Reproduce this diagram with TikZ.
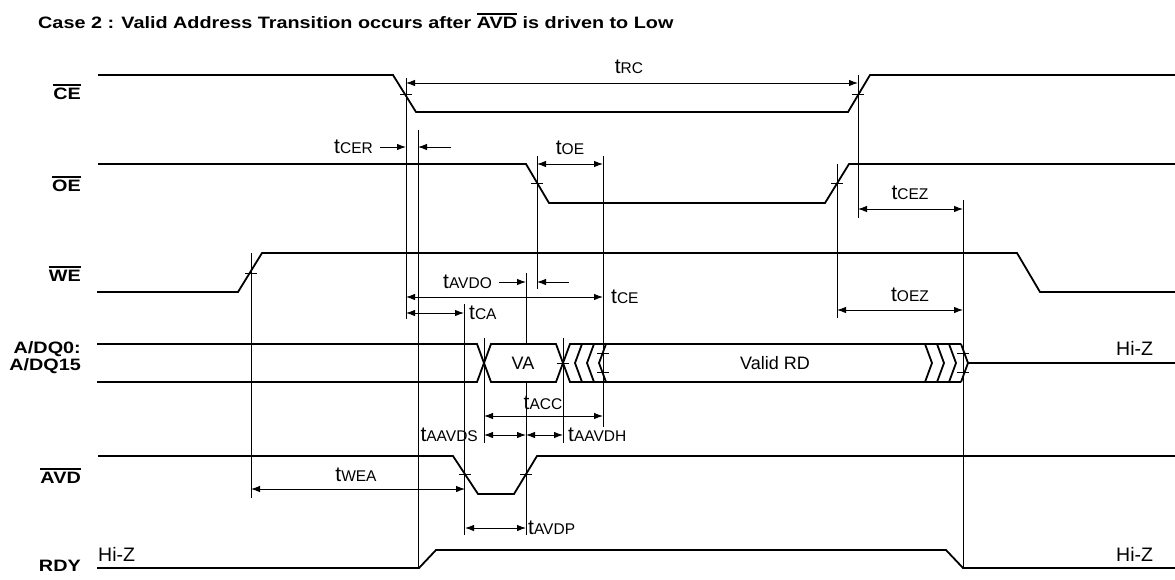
\documentclass[tikz,border=0pt]{standalone}
\usepackage{fontspec}
\setmainfont{Liberation Sans}
\newfontfamily\widesans{Liberation Sans}[FakeStretch=1.2]
\usetikzlibrary{arrows.meta}
\newcommand{\ovl}[1]{\begingroup\setbox0\hbox{#1}\rlap{\rule[\dimexpr\ht0+2.5pt\relax]{\wd0}{2pt}}\box0\endgroup}
\newcommand{\tp}[1]{{\fontsize{21}{21}\selectfont t}{\fontsize{15.5}{15.5}\selectfont #1}}

\begin{document}
\begin{tikzpicture}[x=1pt,y=-1pt,
  sig/.style={line width=1.8pt,line join=miter},
  guide/.style={line width=0.9pt},
  dim/.style={line width=0.9pt,{Latex[length=9pt,width=6.5pt]}-{Latex[length=9pt,width=6.5pt]}},
  onedim/.style={line width=0.9pt,-{Latex[length=9pt,width=6.5pt]}},
  lbl/.style={font=\widesans\bfseries\fontsize{16.5}{17}\selectfont,anchor=east,align=right,inner sep=0pt},
  txt/.style={font=\fontsize{18}{18}\selectfont,inner sep=1pt}]
\useasboundingbox (0,0) rectangle (1175,579);
\node[font=\widesans\bfseries\fontsize{16.5}{17}\selectfont,anchor=west,inner sep=0pt] (title) at (38,21)
  {Case 2 : Valid Address Transition occurs after \ovl{AVD} is driven to Low};
% signal names
\node[lbl] (nCE) at (81,92) {\ovl{CE}};
\node[lbl] (nOE) at (81,184) {\ovl{OE}};
\node[lbl] (nWE) at (81,274) {\ovl{WE}};
\node[lbl] (nDQ) at (81,358) {A/DQ0:\\A/DQ15};
\node[lbl] (nAVD) at (81,476) {\ovl{AVD}};
\node[lbl] (nRDY) at (81,566) {RDY};
% waveforms
\draw[sig] (98,75)--(393,75)--(416,112)--(848,112)--(870,75)--(1175,75);
\draw[sig] (98,164)--(526,164)--(549,203)--(825,203)--(849,164)--(1175,164);
\draw[sig] (97,292)--(238,292)--(262,253)--(1017,253)--(1040,292)--(1175,292);
\draw[sig] (98,456)--(453,456)--(478,494)--(514,494)--(537,456)--(1175,456);
\draw[sig] (97,568)--(419,568)--(436,550)--(946,550)--(963,568)--(1175,568);
% address/data bus
\draw[sig] (97,344)--(477,344)--(491,382)--(556,382)--(570,344)--(961,344);
\draw[sig] (97,382)--(477,382)--(491,344)--(556,344)--(570,382)--(961,382);
\foreach \p in {575,587,599}
  \draw[sig] (\p+7,344)--(\p,363)--(\p+7,382);
\foreach \p in {925,937,949,961}
  \draw[sig] (\p,344)--(\p+7,363)--(\p,382);
\draw[sig] (968,363)--(1175,363);
\node[txt] (va) at (523,363) {VA};
\node[txt] (rd) at (775,363) {Valid RD};
\node[txt,font=\fontsize{19.5}{19.5}\selectfont,anchor=west] (hizA) at (1115,348) {Hi-Z};
\node[txt,font=\fontsize{19.5}{19.5}\selectfont,anchor=west] (hizB) at (97,554) {Hi-Z};
\node[txt,font=\fontsize{19.5}{19.5}\selectfont,anchor=west] (hizC) at (1115,554) {Hi-Z};
% crossing ticks
\foreach \x/\y in {406/94,858/94,537/183,837/183,251/273,465/474,526/474,
                   603/353,603/372,963/353,963/372,563/363}
  \draw[guide] (\x-6,\y)--(\x+6,\y);
% reference lines
\draw[guide] (406,78)--(406,319);
\draw[guide] (418,130)--(418,568);
\draw[guide] (858,75)--(858,218);
\draw[guide] (537,156)--(537,289);
\draw[guide] (603,156)--(603,427);
\draw[guide] (837,164)--(837,318);
\draw[guide] (963,200)--(963,568);
\draw[guide] (251,253)--(251,498);
\draw[guide] (526,273)--(526,344) (526,382)--(526,535);
\draw[guide] (464,304)--(464,535);
\draw[guide] (484,338)--(484,443);
\draw[guide] (563,338)--(563,443);
% timing parameters
\draw[dim] (406,83)--(858,83);
\node[txt] (tRC) at (629,67) {\tp{RC}};
\node[txt,anchor=east] (tCER) at (374,147) {\tp{CER}};
\draw[onedim] (380,147)--(406,147);
\draw[onedim] (451,147)--(418,147);
\draw[dim] (537,164)--(603,164);
\node[txt] (tOE) at (570,148) {\tp{OE}};
\draw[dim] (858,209)--(963,209);
\node[txt] (tCEZ) at (910,193) {\tp{CEZ}};
\node[txt,anchor=east] (tAVDO) at (493,282) {\tp{AVDO}};
\draw[onedim] (499,282)--(526,282);
\draw[onedim] (569,282)--(537,282);
\draw[dim] (406,297)--(603,297);
\node[txt,anchor=west] (tCE) at (610,297) {\tp{CE}};
\draw[dim] (837,310)--(963,310);
\node[txt] (tOEZ) at (910,295) {\tp{OEZ}};
\draw[dim] (406,313)--(464,313);
\node[txt,anchor=west] (tCA) at (468,313) {\tp{CA}};
\draw[dim] (484,416)--(603,416);
\node[txt] (tACC) at (543,403) {\tp{ACC}};
\draw[dim] (484,435)--(526,435);
\draw[dim] (526,435)--(563,435);
\node[txt,anchor=east] (tAAVDS) at (479,435) {\tp{AAVDS}};
\node[txt,anchor=west] (tAAVDH) at (567,435) {\tp{AAVDH}};
\draw[dim] (251,489)--(465,489);
\node[txt] (tWEA) at (356,475) {\tp{WEA}};
\draw[dim] (465,528)--(526,528);
\node[txt,anchor=west] (tAVDP) at (527,528) {\tp{AVDP}};
\end{tikzpicture}
\end{document}
